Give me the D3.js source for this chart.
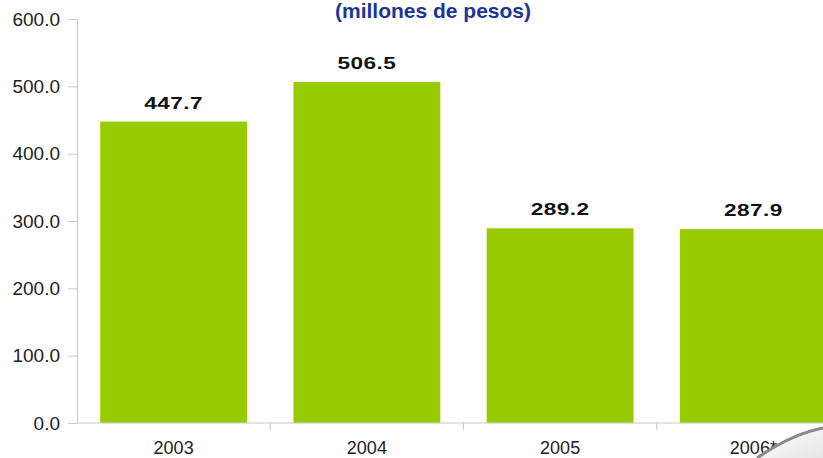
<!DOCTYPE html>
<html><head><meta charset="utf-8">
<script src="https://cdn.jsdelivr.net/npm/d3@7"></script>
<style>html,body{margin:0;padding:0;background:#fff;overflow:hidden}</style>
</head><body>
<svg id="c" width="823" height="458"></svg>
<script>
const categories = ["2003", "2004", "2005", "2006*"];
const values = [447.7, 506.5, 289.2, 287.9];
const yTicks = [0, 100, 200, 300, 400, 500, 600];
const title = "(millones de pesos)";

const svg = d3.select("#c");
const font = "'Liberation Sans', Arial, sans-serif";
const x = d3.scaleBand().domain(categories).range([77, 850]).paddingInner(0.24).paddingOuter(0.12);
const y = d3.scaleLinear().domain([0, 600]).range([423, 19]);

// y axis
const ya = svg.append("g").attr("transform", "translate(77,0)")
  .call(d3.axisLeft(y).tickValues(yTicks).tickFormat(d3.format(".1f")).tickSize(9).tickPadding(8));
ya.select(".domain").attr("stroke", "#c8c8c8");
ya.selectAll(".tick line").attr("stroke", "#c8c8c8");
ya.selectAll("text").attr("font-family", font).attr("font-size", 19).attr("fill", "#222");

// bars
svg.append("g").selectAll("rect").data(values).join("rect")
  .attr("x", (d, i) => x(categories[i]))
  .attr("width", x.bandwidth())
  .attr("y", d => y(d))
  .attr("height", d => y(0) - y(d))
  .attr("fill", "#99CC00");

// x axis
const xa = svg.append("g").attr("transform", "translate(0,423)");
xa.append("line").attr("x1", 77).attr("x2", 823).attr("stroke", "#c8c8c8");
const step = x.step();
xa.selectAll("line.t").data(categories.slice(1)).join("line").attr("class", "t")
  .attr("x1", (d) => x(d) - x.paddingInner() * step / 2)
  .attr("x2", (d) => x(d) - x.paddingInner() * step / 2)
  .attr("y1", 0).attr("y2", 7).attr("stroke", "#c8c8c8");
xa.selectAll("text").data(categories).join("text")
  .attr("x", d => x(d) + x.bandwidth() / 2).attr("y", 31)
  .attr("text-anchor", "middle").attr("font-family", font).attr("font-size", 18).attr("fill", "#222")
  .text(d => d);

// value labels (wide bold face)
svg.append("g").selectAll("text").data(values).join("text")
  .attr("transform", (d, i) => `translate(${x(categories[i]) + x.bandwidth() / 2},${y(d) - 13}) scale(1.33,1)`)
  .attr("text-anchor", "middle").attr("font-family", font).attr("font-weight", "bold")
  .attr("font-size", 17).attr("fill", "#111").attr("letter-spacing", 0.3)
  .text(d => d.toFixed(1));

// title
svg.append("text").attr("x", 433).attr("y", 18).attr("text-anchor", "middle")
  .attr("font-family", font).attr("font-weight", "bold").attr("font-size", 21).attr("fill", "#1a3499")
  .text(title);

// page curl decoration
const defs = svg.append("defs");
const g = defs.append("linearGradient").attr("id", "curl").attr("x1", 0).attr("y1", 0).attr("x2", 1).attr("y2", 1);
g.append("stop").attr("offset", 0).attr("stop-color", "#ffffff");
g.append("stop").attr("offset", 1).attr("stop-color", "#e6e6e6");
svg.append("path").attr("d", "M757,458 Q792,434 823,428 L823,458 Z").attr("fill", "url(#curl)");
svg.append("path").attr("d", "M757,458 Q792,434 823,428").attr("fill", "none").attr("stroke", "#8a8a8a").attr("stroke-width", 3);
</script>
</body></html>
